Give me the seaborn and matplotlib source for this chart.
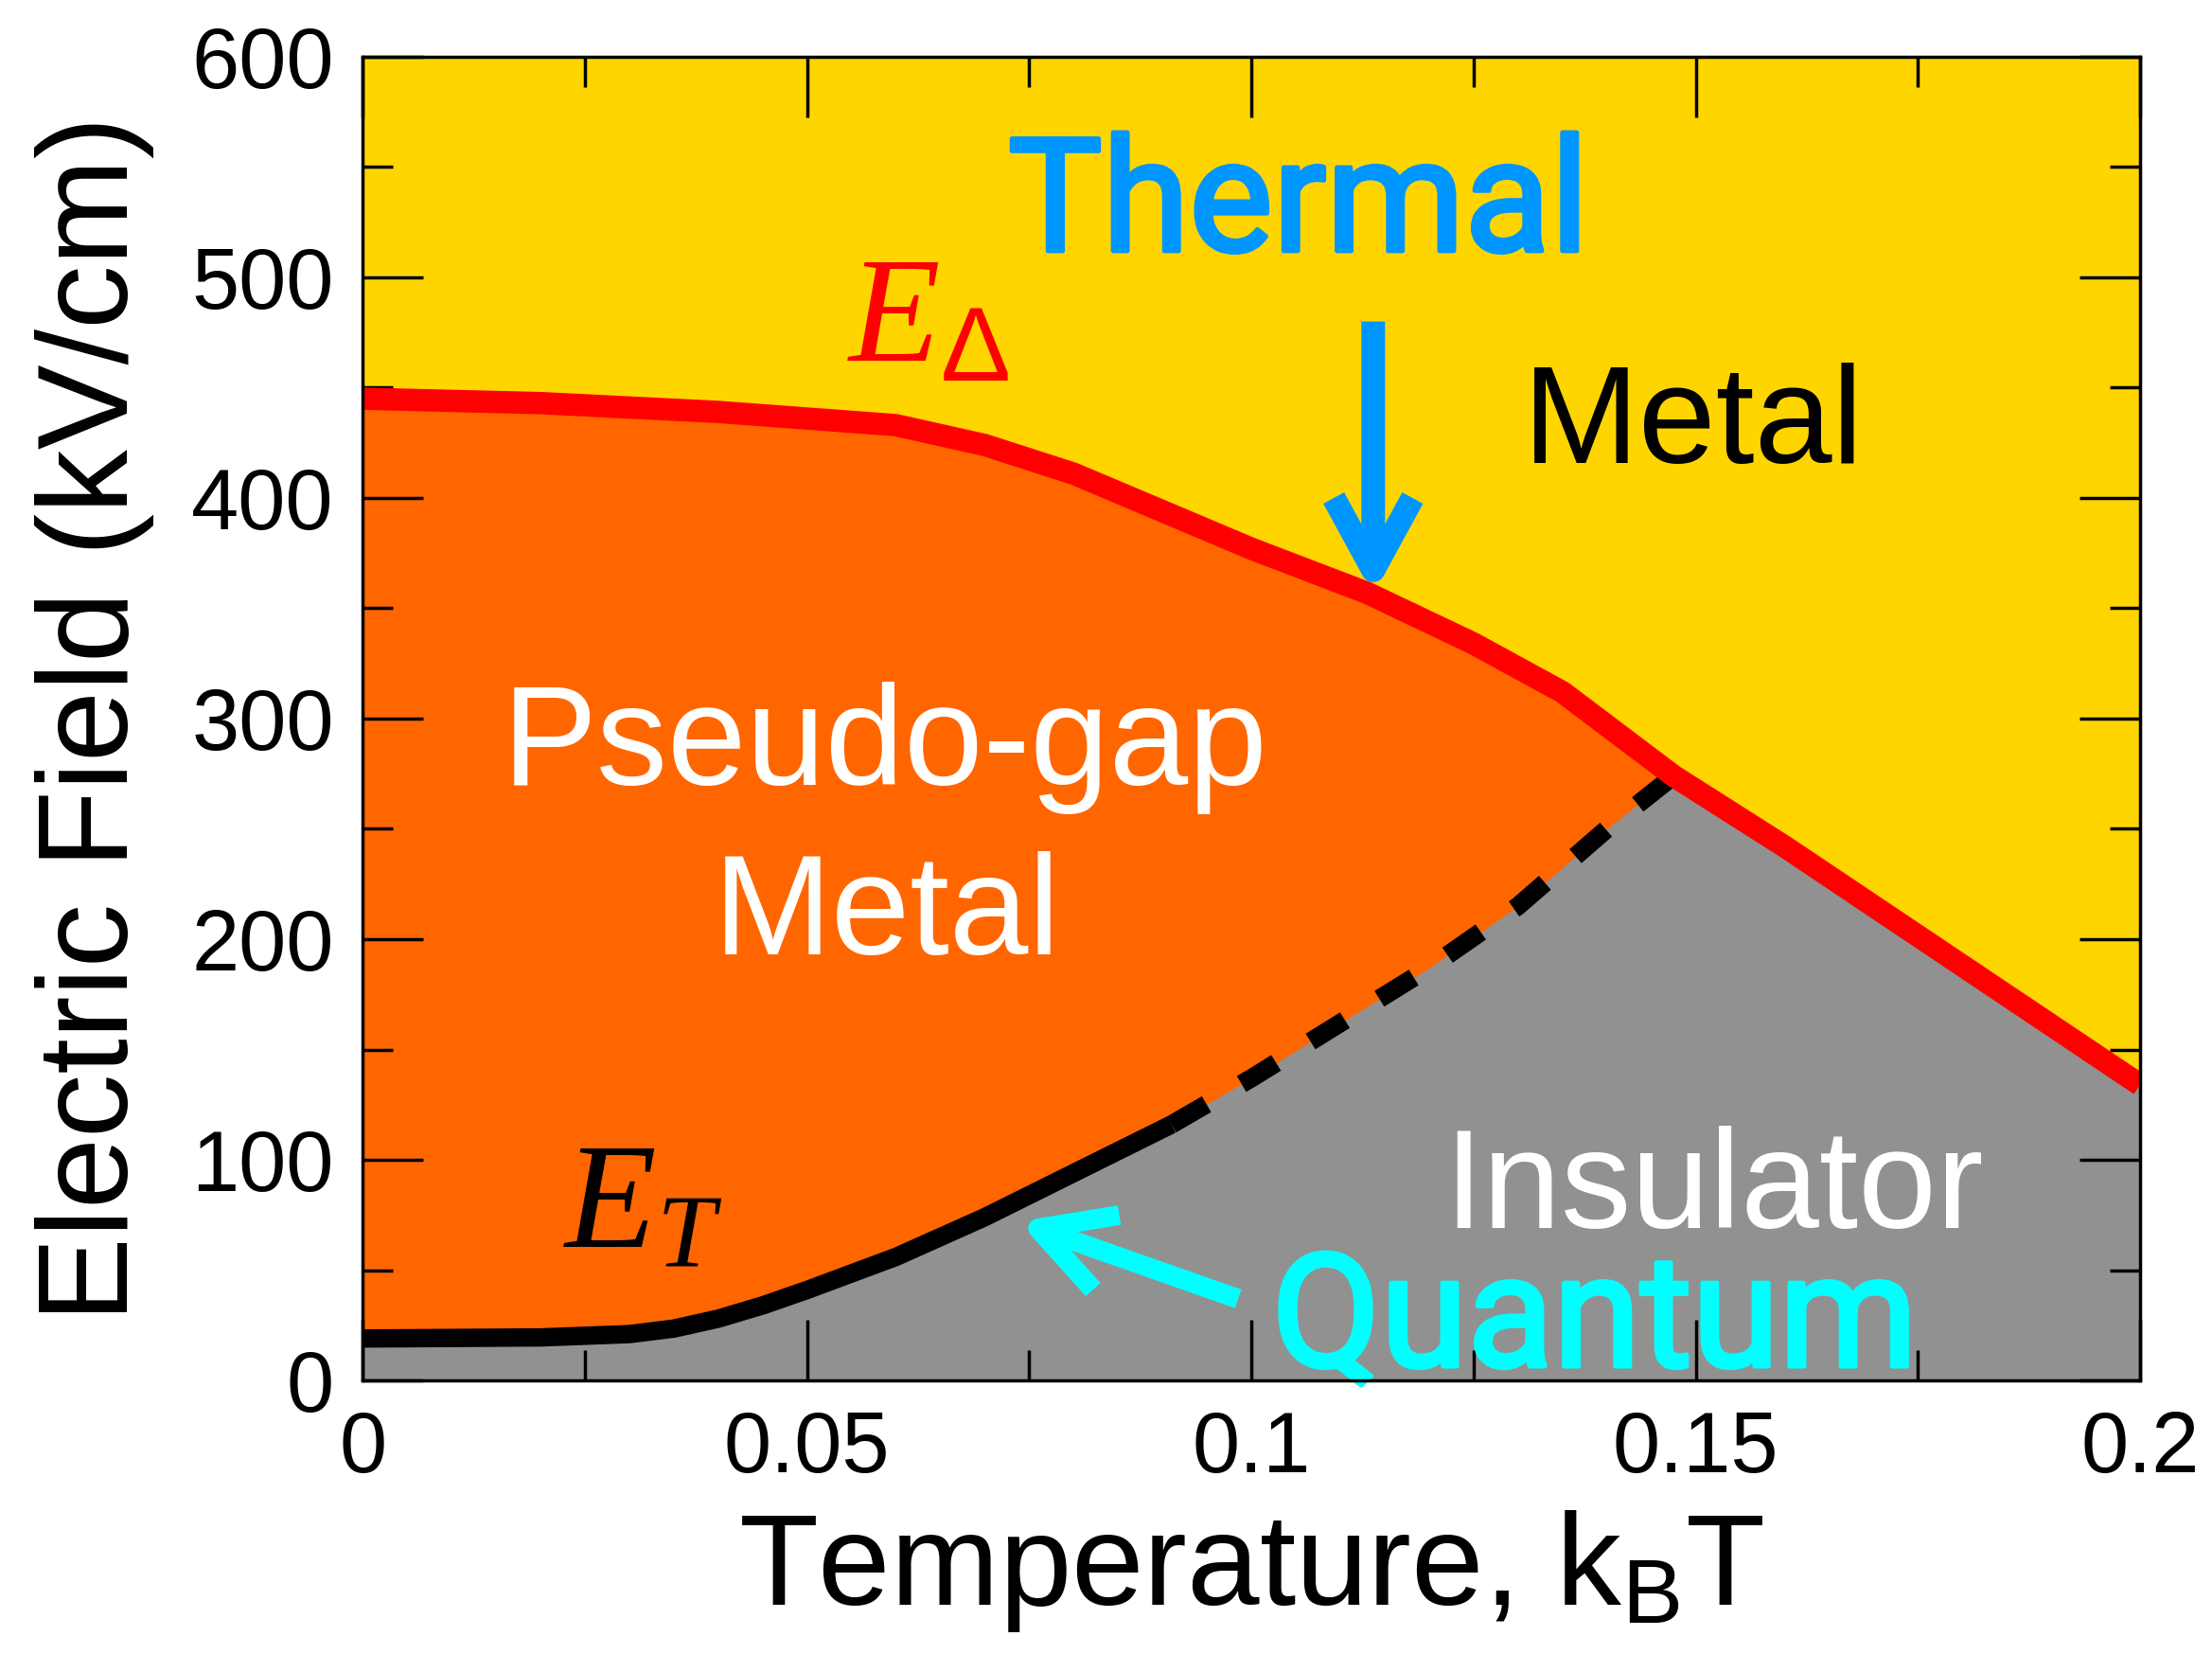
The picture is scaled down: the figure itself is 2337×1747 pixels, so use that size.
import numpy as np
import pandas as pd
import seaborn as sns
import matplotlib.pyplot as plt
import matplotlib.patheffects as pe
from matplotlib.ticker import MultipleLocator, FuncFormatter

# phase boundaries
t_gap = [0, 0.02, 0.04, 0.06, 0.07, 0.08, 0.09, 0.1, 0.113, 0.125, 0.135, 0.1475, 0.16, 0.18, 0.2]
e_gap = [445, 443, 439, 433, 424, 411, 394, 377, 357, 334, 312, 274, 242, 188, 134]

t_thr_solid = [0, 0.02, 0.03, 0.035, 0.04, 0.045, 0.05, 0.06, 0.07, 0.08, 0.091]
e_thr_solid = [19, 19.5, 21, 23.5, 28, 34, 41, 56, 74, 94, 116]
t_thr_dash = [0.091, 0.1, 0.11, 0.12, 0.13, 0.14, 0.1475]
e_thr_dash = [116, 137, 162, 187, 215, 250, 274]

c_metal = "#FFD500"
c_pseudo = "#FF6600"
c_insul = "#919191"
c_gap = "#FF0000"
c_thermal = "#0096FF"
c_quantum = "#00FFFF"

sns.set_theme(style="ticks")
plt.rcParams["font.family"] = ["Liberation Sans", "DejaVu Sans"]
plt.rcParams["mathtext.fontset"] = "custom"
plt.rcParams["mathtext.rm"] = "Liberation Sans"
plt.rcParams["mathtext.it"] = "Liberation Serif:italic"
for k in ["text.color", "axes.labelcolor", "xtick.color", "ytick.color", "axes.edgecolor"]:
    plt.rcParams[k] = "black"

gap = pd.DataFrame({"T": t_gap, "E": e_gap})
thr_solid = pd.DataFrame({"T": t_thr_solid, "E": e_thr_solid})
thr_dash = pd.DataFrame({"T": t_thr_dash, "E": e_thr_dash})

fig = plt.figure(figsize=(23.37, 17.47), dpi=100)
ax = fig.add_axes([0.164, 0.1654, 0.8035, 0.8003])
ax.set_facecolor(c_metal)

# regions
ax.fill_between(gap["T"], 0, gap["E"], color=c_pseudo, lw=0, zorder=1)
t_low = np.concatenate([t_thr_solid, t_thr_dash[1:], [t for t in t_gap if t > t_thr_dash[-1]]])
e_low = np.concatenate([e_thr_solid, e_thr_dash[1:], [e for t, e in zip(t_gap, e_gap) if t > t_thr_dash[-1]]])
ax.fill_between(t_low, 0, e_low, color=c_insul, lw=0, zorder=2)

# boundaries
sns.lineplot(data=gap, x="T", y="E", color=c_gap, lw=17, ax=ax, zorder=4,
             solid_capstyle="butt", solid_joinstyle="round", sort=False)
sns.lineplot(data=thr_solid, x="T", y="E", color="black", lw=14, ax=ax, zorder=3,
             solid_capstyle="butt", solid_joinstyle="round", sort=False)
sns.lineplot(data=thr_dash, x="T", y="E", color="black", lw=14, ax=ax, zorder=3,
             linestyle=(0, (2.2, 2.2)), dash_capstyle="butt", sort=False)

# labels
ax.text(0.1497, 416, "Metal", fontsize=106, color="black", ha="center", va="baseline", zorder=6)
ax.text(0.0588, 270, "Pseudo-gap", fontsize=108, color="white", ha="center", va="baseline", zorder=6)
ax.text(0.0590, 193, "Metal", fontsize=108, color="white", ha="center", va="baseline", zorder=6)
ax.text(0.152, 69, "Insulator", fontsize=107, color="white", ha="center", va="baseline", zorder=6)
ax.text(0.0545, 462, r"$E_{\Delta}$", fontsize=114, color=c_gap, ha="left", va="baseline", zorder=6)
ax.text(0.0226, 60.5, r"$E_{T}$", fontsize=114, color="black", ha="left", va="baseline", zorder=6)

ax.text(0.1053, 512, "Thermal", fontsize=120, color=c_thermal, ha="center", va="baseline",
        family=["Roboto", "DejaVu Sans"], zorder=6,
        path_effects=[pe.withStroke(linewidth=3.5, foreground=c_thermal)])
ax.text(0.1386, 6.4, "Quantum", fontsize=120, color=c_quantum, ha="center", va="baseline",
        family=["Roboto", "DejaVu Sans"], zorder=6,
        path_effects=[pe.withStroke(linewidth=3.5, foreground=c_quantum)])

head = "->,head_length=0.55,head_width=0.3"
ax.annotate("", xy=(0.1137, 356), xytext=(0.1137, 480),
            arrowprops=dict(arrowstyle=head, color=c_thermal, lw=18, mutation_scale=100,
                            shrinkA=0, shrinkB=0, joinstyle="round", capstyle="butt"), zorder=6)
ax.annotate("", xy=(0.0738, 72), xytext=(0.0985, 37),
            arrowprops=dict(arrowstyle=head, color=c_quantum, lw=15, mutation_scale=100,
                            shrinkA=0, shrinkB=0, joinstyle="round", capstyle="butt"), zorder=6)

# axes
ax.set_xlim(0, 0.2)
ax.set_ylim(0, 600)
ax.xaxis.set_major_locator(MultipleLocator(0.05))
ax.xaxis.set_minor_locator(MultipleLocator(0.025))
ax.yaxis.set_major_locator(MultipleLocator(100))
ax.yaxis.set_minor_locator(MultipleLocator(50))
ax.xaxis.set_major_formatter(FuncFormatter(lambda v, p: f"{v:g}"))
ax.tick_params(which="both", direction="in", top=True, right=True, width=2.5,
               color="black", labelcolor="black", labelsize=65, pad=22)
ax.tick_params(which="major", length=46)
ax.tick_params(which="minor", length=23)
for s in ax.spines.values():
    s.set_linewidth(2.5)
    s.set_color("black")
    s.set_zorder(10)
ax.set_axisbelow(False)

ax.set_xlabel(r"Temperature, k$_{\mathrm{B}}$T", fontsize=99, labelpad=14)
ax.set_ylabel("Electric Field (kV/cm)", fontsize=97, labelpad=28)

fig.savefig("out.png", dpi=100)
